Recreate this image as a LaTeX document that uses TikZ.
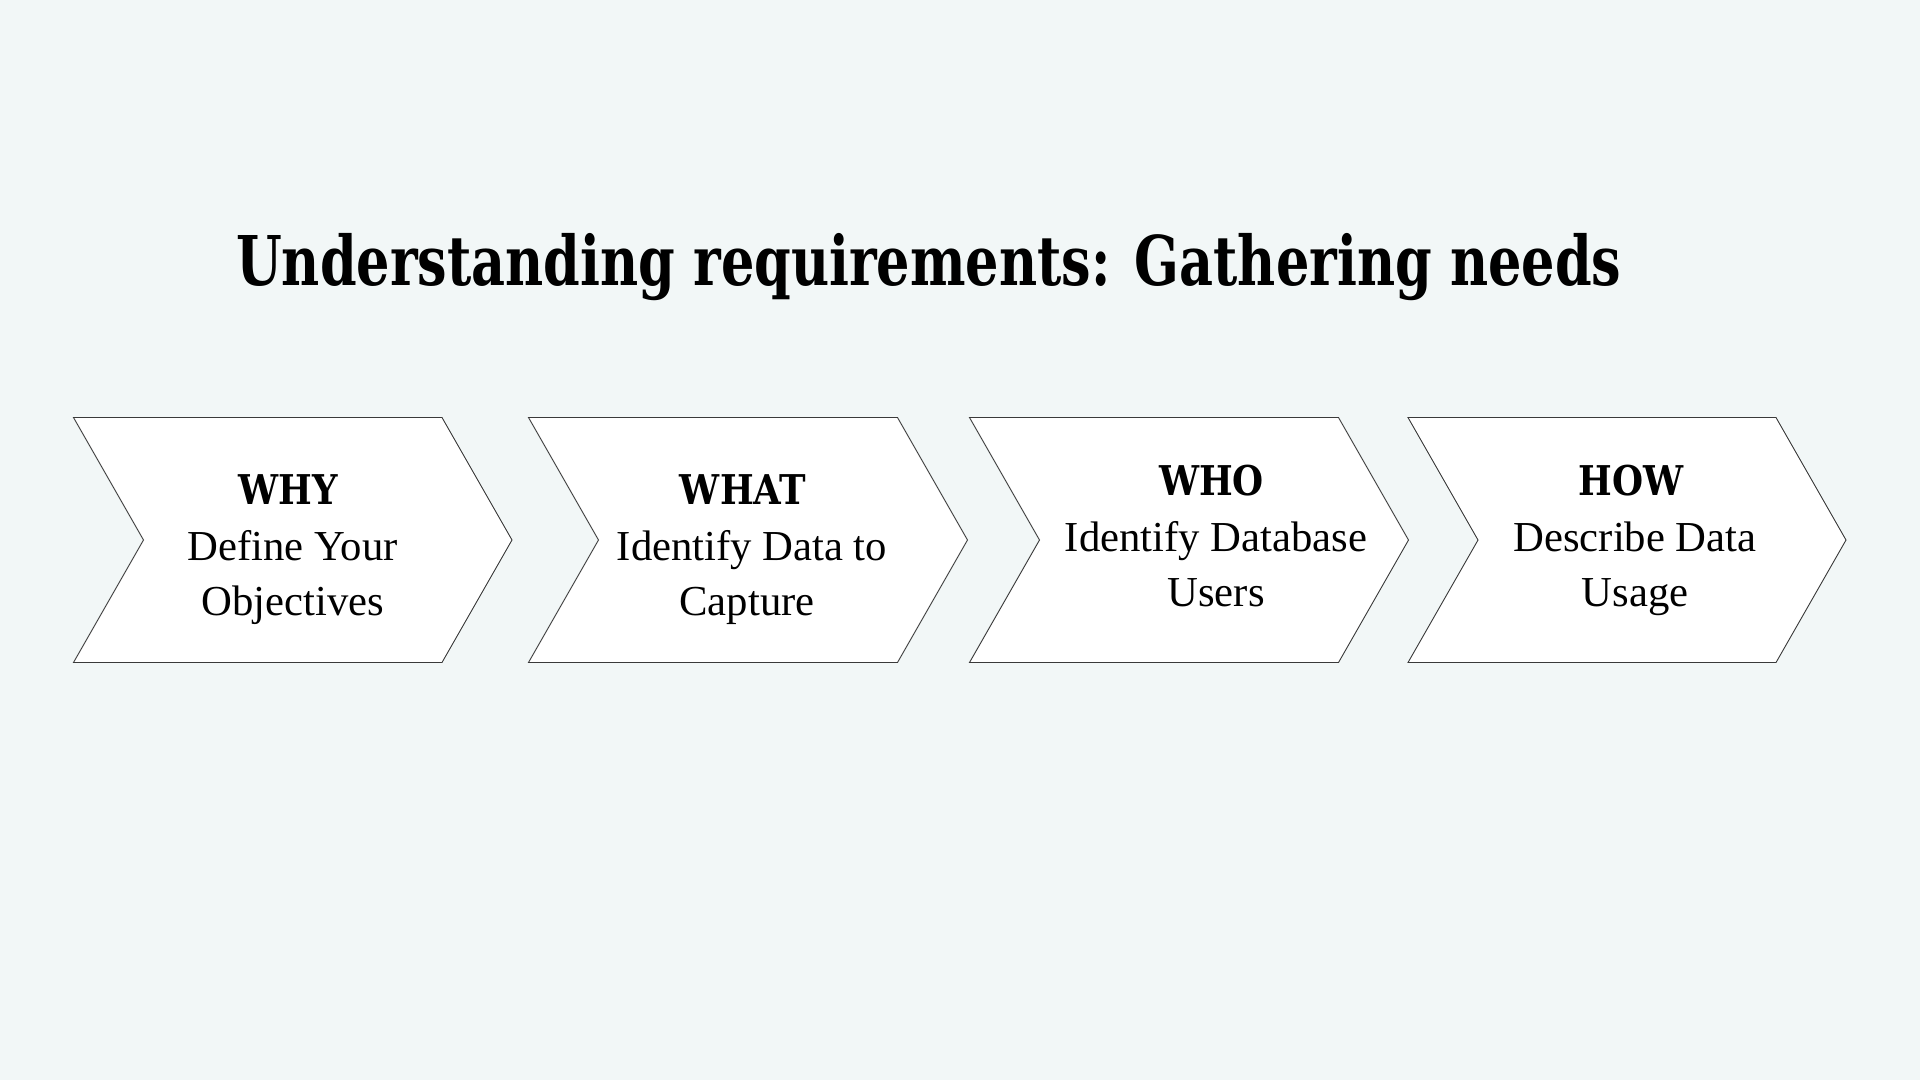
\documentclass[tikz,border=0pt]{standalone}
\usepackage{fontspec}
\setmainfont{Liberation Serif}
\newfontfamily\slabfont{DejaVu Serif}[FakeStretch=0.765]
\newfontfamily\headfont{DejaVu Serif}[FakeStretch=0.87]
\definecolor{bgcol}{HTML}{F2F7F7}
\definecolor{edgecol}{HTML}{3A3A3A}
\tikzset{
  chevshape/.style={fill=white,draw=edgecol,line width=0.9pt,line join=miter},
  headtext/.style={anchor=base,inner sep=0pt,font=\headfont\bfseries\fontsize{41}{41}\selectfont},
  bodytext/.style={anchor=base,inner sep=0pt,font=\fontsize{42.7}{42.7}\selectfont},
  titletext/.style={anchor=base west,inner sep=0pt,font=\slabfont\bfseries\fontsize{68.6}{68.6}\selectfont}
}
\begin{document}
\begin{tikzpicture}[x=1pt,y=-1pt]
\fill[bgcol] (0,0) rectangle (1920,1080);
\useasboundingbox (0,0) rectangle (1920,1080);
\node[titletext] (title) at (236,285) {Understanding requirements: Gathering needs};
% chevrons
\draw[chevshape] (73.5,417.5) -- (442,417.5) -- (512,540) -- (442,662.5) -- (73.5,662.5) -- (143.5,540) -- cycle;
\draw[chevshape] (528.5,417.5) -- (897.5,417.5) -- (967.5,540) -- (897.5,662.5) -- (528.5,662.5) -- (598.5,540) -- cycle;
\draw[chevshape] (969.5,417.5) -- (1338.5,417.5) -- (1408.5,540) -- (1338.5,662.5) -- (969.5,662.5) -- (1039.5,540) -- cycle;
\draw[chevshape] (1408,417.5) -- (1776,417.5) -- (1846,540) -- (1776,662.5) -- (1408,662.5) -- (1478,540) -- cycle;
% texts
\node[headtext] (whyh) at (288,504) {WHY};
\node[bodytext] (why1) at (292.6,560) {Define Your};
\node[bodytext] (why2) at (292.6,615) {Objectives};
\node[headtext] (whath) at (743,504) {WHAT};
\node[bodytext] (what1) at (752,560) {Identify Data to};
\node[bodytext] (what2) at (747,615) {Capture};
\node[headtext] (whoh) at (1211.6,495) {WHO};
\node[bodytext] (who1) at (1216,551) {Identify Database};
\node[bodytext] (who2) at (1216,606) {Users};
\node[headtext] (howh) at (1631,495) {HOW};
\node[bodytext] (how1) at (1635,551) {Describe Data};
\node[bodytext] (how2) at (1635,606) {Usage};
\end{tikzpicture}
\end{document}
